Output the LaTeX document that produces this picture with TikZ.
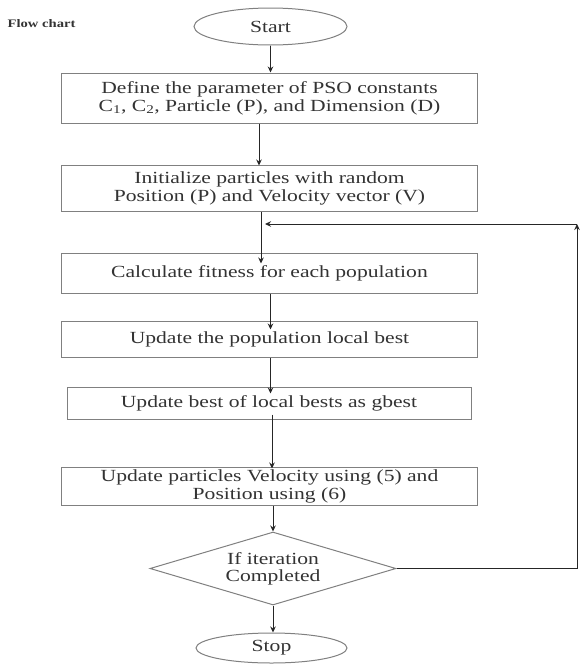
\documentclass[tikz,border=0pt]{standalone}
\usepackage{fontspec}
\setmainfont{Liberation Serif}[FakeStretch=1.27]
\usetikzlibrary{arrows.meta}
\usetikzlibrary{shapes.geometric}
\usetikzlibrary{positioning}

\begin{document}
\begin{tikzpicture}[x=1pt, y=-1pt,
      box/.style={draw=black!50, line width=1, rectangle, inner sep=0, align=center, text=black!80, font=\fontsize{17}{18}\selectfont, minimum width=416},
      term/.style={draw=black!50, line width=1, ellipse, inner sep=0, text=black!80, font=\fontsize{17}{18}\selectfont},
      decide/.style={draw=black!50, line width=1, diamond, shape aspect=3.4, inner sep=0, align=center, text=black!80, font=\fontsize{17}{17}\selectfont},
      arrow/.style={draw=black!85, line width=1, -{Stealth[length=6, width=5.5]}},
      link/.style={draw=black!85, line width=1}
    ]
    \useasboundingbox[fill=white] (0,0) rectangle (585,664);

    % title
    \node [anchor=west, inner sep=0, text=black!80, font=\fontsize{11.5}{14}\bfseries] (t) at (7.5, 24) {Flow chart};

    % steps
    \node [term, minimum width=153, minimum height=37] (0) at (270.5, 26.5) {Start};
    \node [box, minimum height=50] (1) at (269.5, 98) {Define the parameter of PSO constants\\C\textsubscript{1}, C\textsubscript{2}, Particle (P), and Dimension (D)};
    \node [box, minimum height=46] (2) at (269.5, 188) {Initialize particles with random\\Position (P) and Velocity vector (V)};
    \node [box, minimum height=40] (3) at (269.5, 273) {Calculate fitness for each population};
    \node [box, minimum height=36] (4) at (269.5, 339) {Update the population local best};
    \node [box, minimum width=404, minimum height=32] (5) at (269, 403) {Update best of local bests as gbest};
    \node [box, minimum height=38] (6) at (269.5, 486) {Update particles Velocity using (5) and\\Position using (6)};
    \node [decide, minimum width=246, minimum height=73] (7) at (273, 568.5) {If iteration\\Completed};
    \node [term, minimum width=151, minimum height=30] (8) at (271.5, 648) {Stop};

    % loop back
    \coordinate (j) at (261, 224);
    \coordinate (r1) at (577, 568.5);
    \coordinate (r2) at (577, 224);

    \draw[arrow] (0.south) to (1.north -| 0.south);
    \draw[arrow] ([xshift=-10.5]1.south) to ([xshift=-10.5, yshift=-1]2.north);
    \draw[arrow] ([xshift=-8.5]2.south) to ([xshift=-8.5, yshift=-11]3.north);
    \draw[arrow] ([xshift=1]3.south) to ([xshift=1, yshift=-9]4.north);
    \draw[arrow] ([xshift=1]4.south) to ([xshift=1.5, yshift=-7]5.north);
    \draw[arrow] ([xshift=3, yshift=5]5.south) to ([xshift=2.5, yshift=-2]6.north);
    \draw[arrow] (6.south -| 7.north) to (7.north);
    \draw[arrow] (7.south) to (8.north -| 7.south);

    \draw[link] (7.east) to (r1);
    \draw[arrow] (r1) to (r2);
    \draw[arrow] (r2) to ([xshift=4]j);

\end{tikzpicture}
\end{document}
